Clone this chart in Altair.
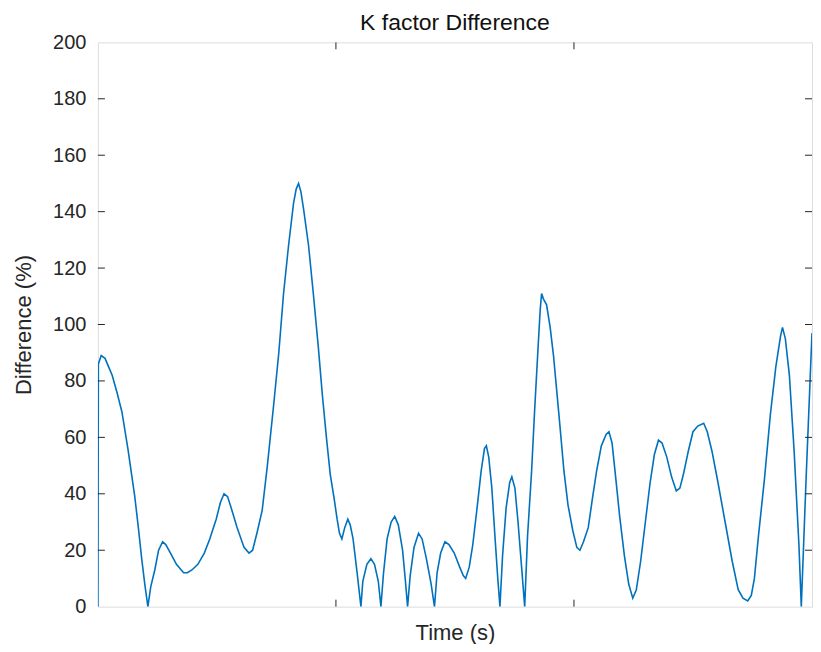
import altair as alt
import pandas as pd

# Time (s) and difference (%)
time_s = [0.000, 0.002, 0.014, 0.030, 0.045, 0.060, 0.080, 0.101, 0.126, 0.155,
          0.170, 0.184, 0.197, 0.210, 0.222, 0.239, 0.255, 0.272, 0.285, 0.305,
          0.330, 0.360, 0.376, 0.395, 0.420, 0.447, 0.470, 0.497, 0.515, 0.530,
          0.545, 0.560, 0.585, 0.614, 0.635, 0.650, 0.668, 0.690, 0.712, 0.739,
          0.760, 0.780, 0.801, 0.822, 0.833, 0.843, 0.853, 0.864, 0.885, 0.905,
          0.926, 0.943, 0.960, 0.976, 0.993, 1.005, 1.015, 1.025, 1.037, 1.050,
          1.060, 1.072, 1.089, 1.105, 1.113, 1.130, 1.147, 1.162, 1.178, 1.189,
          1.200, 1.215, 1.232, 1.247, 1.262, 1.280, 1.292, 1.301, 1.312, 1.328,
          1.347, 1.362, 1.380, 1.400, 1.414, 1.425, 1.440, 1.458, 1.475, 1.497,
          1.520, 1.535, 1.545, 1.560, 1.575, 1.593, 1.610, 1.624, 1.632, 1.642,
          1.655, 1.668, 1.680, 1.689, 1.700, 1.715, 1.730, 1.739, 1.752, 1.765,
          1.780, 1.793, 1.805, 1.822, 1.835, 1.848, 1.858, 1.864, 1.872, 1.885,
          1.900, 1.914, 1.939, 1.958, 1.975, 1.995, 2.012, 2.025, 2.040, 2.060,
          2.077, 2.095, 2.115, 2.135, 2.147, 2.160, 2.175, 2.192, 2.212, 2.230,
          2.247, 2.262, 2.280, 2.300, 2.320, 2.338, 2.355, 2.370, 2.390, 2.410,
          2.430, 2.445, 2.460, 2.480, 2.500, 2.520, 2.545, 2.560, 2.580, 2.605,
          2.635, 2.665, 2.690, 2.710, 2.730, 2.745, 2.758, 2.775, 2.800, 2.825,
          2.848, 2.868, 2.876, 2.888, 2.905, 2.925, 2.945, 2.955, 2.975, 3.000]
difference = [0, 86, 89, 88, 85, 82, 76, 69, 56, 39,
              28, 17, 8, 0, 7, 13, 20, 23, 22, 19,
              15, 12, 12, 13, 15, 19, 24, 31, 37, 40,
              39, 35, 28, 21, 19, 20, 26, 34, 50, 72,
              90, 111, 128, 143, 148, 150, 147, 141, 128, 111,
              92, 75, 60, 47, 38, 31, 26, 24, 28, 31,
              29, 24, 12, 0, 9, 15, 17, 15, 9, 0,
              12, 24, 30, 32, 29, 20, 9, 0, 11, 21,
              26, 24, 17, 8, 0, 12, 19, 23, 22, 19,
              14, 11, 10, 14, 22, 35, 48, 56, 57, 53,
              42, 25, 10, 0, 18, 35, 44, 46, 42, 30,
              14, 0, 25, 48, 70, 90, 105, 111, 109, 107,
              99, 89, 66, 48, 36, 27, 21, 20, 23, 28,
              38, 48, 57, 61, 62, 58, 46, 32, 18, 8,
              3, 6, 16, 30, 44, 54, 59, 58, 53, 46,
              41, 42, 47, 55, 62, 64, 65, 62, 55, 44,
              30, 16, 6, 3, 2, 4, 10, 25, 45, 68,
              85, 96, 99, 95, 82, 55, 22, 0, 45, 97]

y_ticks = [0, 20, 40, 60, 80, 100, 120, 140, 160, 180, 200]
x_ticks = [1, 2]

FONT = "Liberation Sans"
AXIS_COLOR = "#262626"

df = pd.DataFrame({"t": time_s, "d": difference})
ytick_df = pd.DataFrame({"v": y_ticks[1:-1]})
xtick_df = pd.DataFrame({"v": x_ticks})

x_scale = alt.Scale(domain=[0, 3], nice=False, zero=False)
y_scale = alt.Scale(domain=[0, 200], nice=False)

line = alt.Chart(df).mark_line(color="#0072BD", strokeWidth=1.6, clip=True).encode(
    x=alt.X("t:Q", scale=x_scale,
            axis=alt.Axis(title="Time (s)", labels=False, ticks=False, domain=False,
                          grid=False, titleFontSize=22, titleFont=FONT,
                          titleFontWeight="normal", titleColor=AXIS_COLOR,
                          titlePadding=16)),
    y=alt.Y("d:Q", scale=y_scale,
            axis=alt.Axis(title="Difference (%)", values=y_ticks, ticks=False,
                          domain=False, grid=False, labelFontSize=20, labelFont=FONT,
                          labelColor=AXIS_COLOR, labelPadding=12,
                          titleFontSize=22, titleFont=FONT, titleFontWeight="normal",
                          titleColor=AXIS_COLOR, titlePadding=17)),
)

tick_len = 7
W, H = 715, 565

left_ticks = alt.Chart(ytick_df).mark_rule(color=AXIS_COLOR, strokeWidth=1).encode(
    y=alt.Y("v:Q", scale=y_scale), x=alt.value(0), x2=alt.value(tick_len))
right_ticks = alt.Chart(ytick_df).mark_rule(color=AXIS_COLOR, strokeWidth=1).encode(
    y=alt.Y("v:Q", scale=y_scale), x=alt.value(W - tick_len), x2=alt.value(W))
bottom_ticks = alt.Chart(xtick_df).mark_rule(color=AXIS_COLOR, strokeWidth=1).encode(
    x=alt.X("v:Q", scale=x_scale), y=alt.value(H - tick_len), y2=alt.value(H))
top_ticks = alt.Chart(xtick_df).mark_rule(color=AXIS_COLOR, strokeWidth=1).encode(
    x=alt.X("v:Q", scale=x_scale), y=alt.value(0), y2=alt.value(tick_len))

chart = alt.layer(line, left_ticks, right_ticks, bottom_ticks, top_ticks).properties(
    width=W, height=H,
    title=alt.TitleParams("K factor Difference", fontSize=23, font=FONT,
                          fontWeight="normal", color="#111111", offset=-3),
    autosize=alt.AutoSizeParams(type="pad"),
    padding={"left": 4, "top": 4, "right": 0, "bottom": 0},
).configure_view(
    stroke=AXIS_COLOR, strokeWidth=1
).configure(background="white")

chart.save("out.html", embed_options={"renderer": "svg", "actions": False})
